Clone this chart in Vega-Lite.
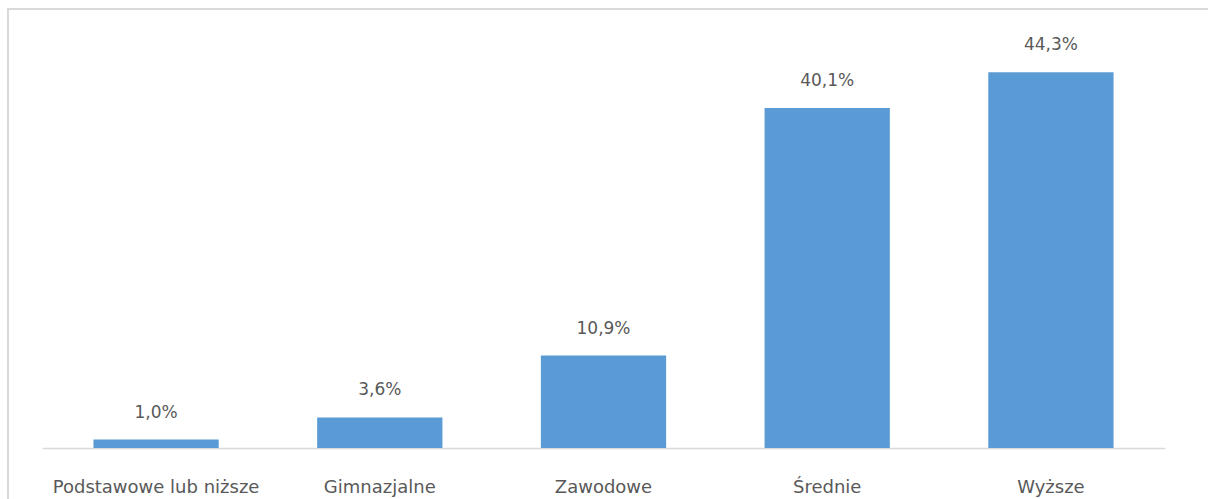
{
  "$schema": "https://vega.github.io/schema/vega-lite/v6.json",
  "autosize": {"type": "none"},
  "width": 1220,
  "height": 500,
  "padding": {"left": 8, "top": 9, "right": 0, "bottom": 0},
  "background": "white",
  "config": {
    "locale": {"number": {"decimal": ",", "thousands": " ", "grouping": [3], "currency": ["", " zł"]}},
    "view": {"stroke": "#D9D9D9", "strokeWidth": 2},
    "font": "DejaVu Sans"
  },
  "data": {
    "values": [
      {"kategoria": "Podstawowe lub niższe", "udzial": 0.010},
      {"kategoria": "Gimnazjalne", "udzial": 0.036},
      {"kategoria": "Zawodowe", "udzial": 0.109},
      {"kategoria": "Średnie", "udzial": 0.401},
      {"kategoria": "Wyższe", "udzial": 0.443}
    ]
  },
  "encoding": {
    "x": {
      "field": "kategoria",
      "type": "nominal",
      "sort": null,
      "scale": {"range": [34, 1157], "paddingInner": 0.44, "paddingOuter": 0.23},
      "axis": {
        "title": null,
        "labelAngle": 0,
        "ticks": false,
        "domainColor": "#D9D9D9",
        "domainWidth": 1.5,
        "labelColor": "#595959",
        "labelFontSize": 18,
        "labelPadding": 39,
        "offset": -61,
        "labelBaseline": "middle",
        "labelOverlap": false,
        "labelLimit": 400
      }
    },
    "y": {
      "field": "udzial",
      "type": "quantitative",
      "scale": {"domain": [0, 0.5], "range": [439, 15], "nice": false},
      "axis": null
    }
  },
  "layer": [
    {"mark": {"type": "bar", "color": "#5B9BD5"}},
    {
      "mark": {"type": "text", "baseline": "middle", "dy": -27, "fontSize": 17, "color": "#595959"},
      "encoding": {"text": {"field": "udzial", "type": "quantitative", "format": ".1%"}}
    }
  ]
}
